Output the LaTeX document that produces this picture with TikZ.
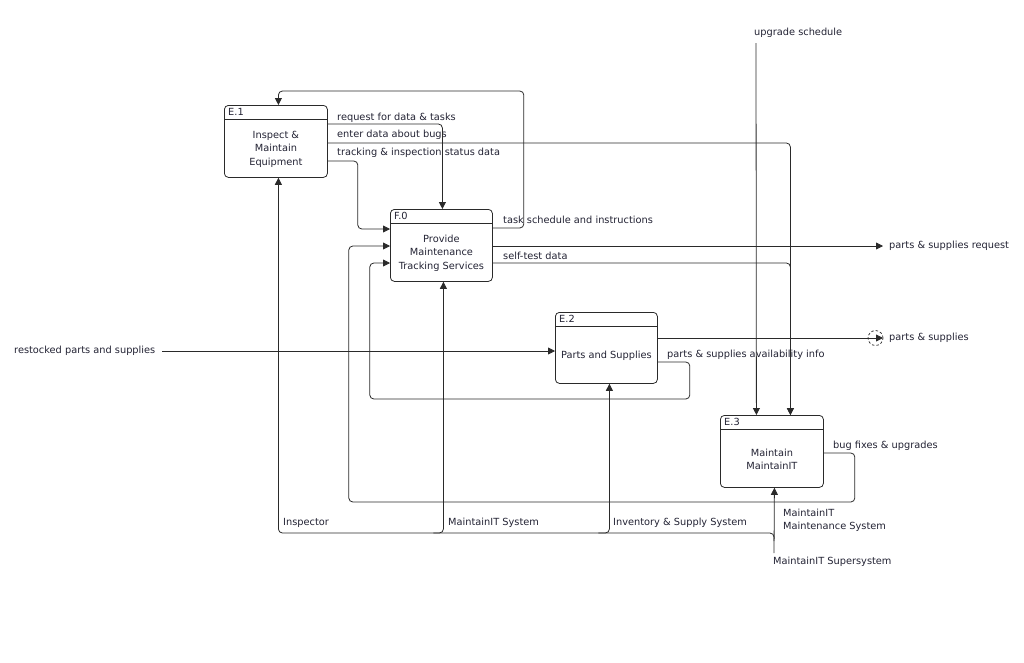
\documentclass[tikz,border=0pt]{standalone}
\usepackage{fontspec}
\setmainfont{DejaVu Sans}
\usetikzlibrary{arrows.meta,calc}
\definecolor{linec}{HTML}{2A2A2A}
\definecolor{textc}{HTML}{222233}
\begin{document}
\begin{tikzpicture}[x=1pt,y=-1pt,
  font=\fontsize{9.8}{13.5}\selectfont,
  proc/.style={draw=linec, line width=0.8pt, rounded corners=4pt, anchor=north west, inner sep=0pt},
  wire/.style={draw=linec, line width=0.8pt, rounded corners=4pt},
  flow/.style={wire, -{Triangle[length=7pt,width=7pt]}},
  lbl/.style={anchor=mid west, inner sep=0pt, text=textc},
  body/.style={align=center, inner sep=0pt, text=textc}]
\useasboundingbox (0,0) rectangle (1024,662);

% boxes
\node[proc, minimum width=103pt, minimum height=72pt] (E1) at (224,105) {};
\node[proc, minimum width=102pt, minimum height=72pt] (F0) at (390,209) {};
\node[proc, minimum width=102pt, minimum height=71pt] (E2) at (555,312) {};
\node[proc, minimum width=103pt, minimum height=72pt] (E3) at (720,415) {};

\foreach \b in {E1,F0,E2,E3}{
  \draw[wire] ([yshift=-14.5pt]\b.north west) -- ([yshift=-14.5pt]\b.north east);
}
\node[lbl] (E1id) at ([xshift=4pt,yshift=-7.5pt]E1.north west) {E.1};
\node[lbl] (F0id) at ([xshift=4pt,yshift=-7.5pt]F0.north west) {F.0};
\node[lbl] (E2id) at ([xshift=4pt,yshift=-7.5pt]E2.north west) {E.2};
\node[lbl] (E3id) at ([xshift=4pt,yshift=-7.5pt]E3.north west) {E.3};

\node[body] (E1b) at ([yshift=-7.5pt]E1.center) {Inspect \&\\Maintain\\Equipment};
\node[body] (F0b) at ([yshift=-7.5pt]F0.center) {Provide\\Maintenance\\Tracking Services};
\node[body] (E2b) at ([yshift=-7.5pt]E2.center) {Parts and Supplies};
\node[body] (E3b) at ([yshift=-8pt]E3.center) {Maintain\\MaintainIT};

% external labels
\node[lbl] (upg) at (754,33) {upgrade schedule};
\coordinate (upgtop) at (756,43);
\node[lbl] (rest) at (14,351) {restocked parts and supplies};
\node[lbl] (preq) at (889,246) {parts \& supplies request};
\node[lbl] (ps) at (889,338) {parts \& supplies};
\node[lbl] (sup) at (773,562) {MaintainIT Supersystem};
\coordinate (supend) at (774,553);
\coordinate (bus) at (774,541);

% connector labels
\node[lbl] (l1) at (337,117.5) {request for data \& tasks};
\node[lbl] (l2) at (337,134.5) {enter data about bugs};
\node[lbl] (l3) at (337,152.5) {tracking \& inspection status data};
\node[lbl] (l4) at (503,221) {task schedule and instructions};
\node[lbl] (l5) at (503,256.5) {self-test data};
\node[lbl] (l6) at (667,354.5) {parts \& supplies availability info};
\node[lbl] (l7) at (833,446) {bug fixes \& upgrades};
\node[lbl, anchor=north west, align=left] (l8) at (783,508.5) {MaintainIT\\Maintenance System};
\node[lbl] (l9) at (283,523) {Inspector};
\node[lbl] (l10) at (448,523) {MaintainIT System};
\node[lbl] (l11) at (613,523) {Inventory \& Supply System};

% connectors
\draw[flow] ([yshift=-19pt]E1.north east) -| ([xshift=1pt]F0.north);
\draw[flow] ([yshift=-38pt]E1.north east) -| ([xshift=18.5pt]E3.north);
\draw[flow] ([yshift=-56pt]E1.north east) -- ++(30,0) |- ([yshift=-20pt]F0.north west);
\draw[flow] ([yshift=-19pt]F0.north east) -- ++(31,0) -- ++(0,-137) -| ([xshift=2.5pt]E1.north);
\draw[flow] ([yshift=-37pt]F0.north east) -- ([xshift=-6pt]preq.mid west);
\draw[flow] ([yshift=-54pt]F0.north east) -| ([xshift=18.5pt]E3.north);
\draw[flow] (upgtop) -- ([xshift=-15.5pt]E3.north);
\draw[flow] ([xshift=7pt]rest.mid east) -- (E2.west |- rest.mid east);
\draw[flow] ([yshift=-26pt]E2.north east) -- ([xshift=-6pt]ps.mid west);
\draw[linec, line width=0.7pt, dash pattern=on 2.5pt off 2pt] ([xshift=-13.5pt]ps.mid west) circle (7.5pt);
\draw[flow] ([yshift=-50pt]E2.north east) -- ++(32,0) -- ++(0,37) -- ++(-320,0) |- ([yshift=-54pt]F0.north west);
\draw[flow] ([yshift=-38pt]E3.north east) -- ++(31,0) -- ++(0,49) -- ++(-506,0) |- ([yshift=-37pt]F0.north west);
\draw[flow] (supend) -- ([xshift=2.5pt]E3.south);
\draw[flow] (bus) -- ++(0,-8) -| ([xshift=2.5pt]E1.south);
\draw[flow] ([xshift=-8pt]F0.south |- bus) ++(0,-8) -| ([xshift=2pt]F0.south);
\draw[flow] ([xshift=-8pt]E2.south |- bus) ++(0,-8) -| ([xshift=3pt]E2.south);
\end{tikzpicture}
\end{document}
